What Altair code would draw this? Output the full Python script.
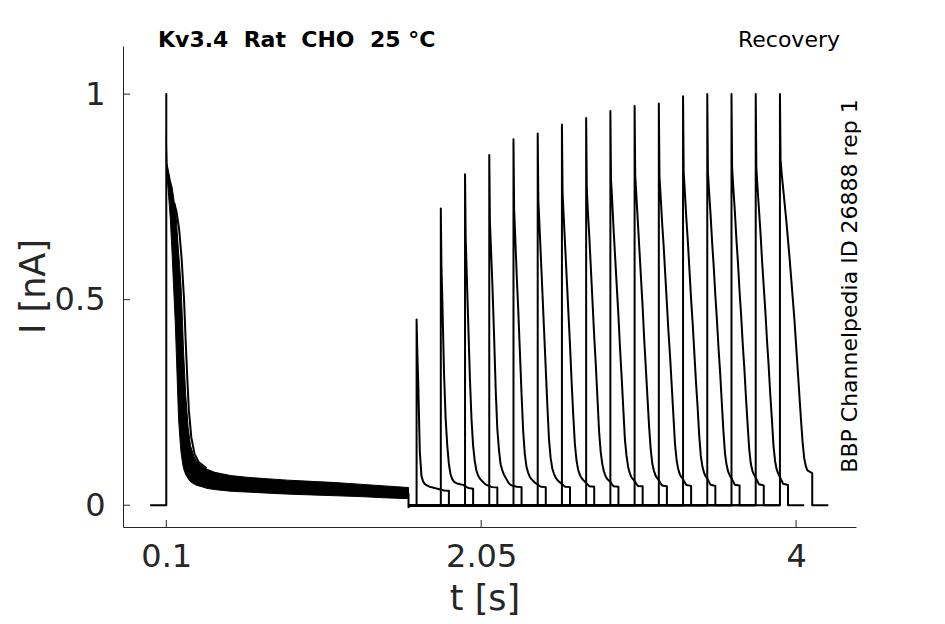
import altair as alt
import pandas as pd

# ---------------- axis values ----------------
x_ticks = [0.1, 2.05, 4]
y_ticks = [0, 0.5, 1]
x_domain = [-0.168, 4.371]
y_domain = [-0.053, 1.117]

# ---------------- prepulse (16 sweeps overlaid) : band envelope ----------------
band_t = [0.1, 0.105, 0.115, 0.125, 0.135, 0.145, 0.155, 0.162, 0.17, 0.176, 0.185,
          0.191, 0.2, 0.207, 0.22, 0.235, 0.25, 0.27, 0.29, 0.32, 0.35, 0.4, 0.45,
          0.5, 0.6, 0.7, 0.85, 1.0, 1.15, 1.3, 1.45, 1.6]
band_hi = [0.90, 0.83, 0.81, 0.79, 0.775, 0.75, 0.72, 0.697, 0.65, 0.616, 0.57,
           0.535, 0.45, 0.373, 0.27, 0.19, 0.145, 0.12, 0.105, 0.095, 0.088, 0.08, 0.076,
           0.072, 0.068, 0.065, 0.061, 0.058, 0.055, 0.051, 0.047, 0.043]
band_lo = [0.84, 0.80, 0.75, 0.697, 0.62, 0.535, 0.45, 0.373, 0.28, 0.211, 0.16,
           0.13, 0.105, 0.089, 0.075, 0.065, 0.057, 0.052, 0.048, 0.045, 0.041, 0.038, 0.036,
           0.034, 0.032, 0.030, 0.027, 0.025, 0.023, 0.021, 0.018, 0.016]

# leading baseline and activation spike of the prepulse
pre_t = [0.0, 0.1, 0.1, 0.1]
pre_i = [0.0, 0.0, 1.0, 0.86]
# one slower trace separated from the band
odd_t = [0.15, 0.165, 0.18, 0.195, 0.21, 0.22, 0.23, 0.24, 0.255, 0.275, 0.30, 0.35]
odd_i = [0.735, 0.71, 0.67, 0.60, 0.50, 0.40, 0.31, 0.23, 0.165, 0.125, 0.105, 0.09]
# end of prepulse
end_t = [1.6, 1.6, 1.61]
end_i = [0.03, -0.005, 0.0]

# ---------------- test pulses ----------------
gap_start = 1.6            # prepulse end, current back to 0
tail_len = 0.1             # baseline after each test pulse
starts = [1.65, 1.80, 1.95, 2.10, 2.25, 2.40, 2.55, 2.70, 2.85, 3.00, 3.15,
          3.30, 3.45, 3.60, 3.75, 3.90]
rel = [0, 0.004, 0.01, 0.02, 0.03, 0.04, 0.05, 0.06, 0.07, 0.08, 0.09, 0.10,
       0.11, 0.12, 0.13, 0.14, 0.15, 0.16, 0.17, 0.2]
pulse_00 = [0.452, 0.38, 0.30, 0.13, 0.072, 0.058, 0.052, 0.049, 0.047, 0.045, 0.044, 0.043, 0.042, 0.041, 0.040, 0.039, 0.038, 0.037, 0.036, 0.035]
pulse_01 = [0.722, 0.58, 0.49, 0.32, 0.21, 0.145, 0.10, 0.076, 0.064, 0.058, 0.055, 0.053, 0.052, 0.051, 0.050, 0.049, 0.047, 0.044, 0.042, 0.040]
pulse_02 = [0.805, 0.65, 0.57, 0.44, 0.31, 0.21, 0.145, 0.108, 0.085, 0.073, 0.066, 0.061, 0.057, 0.053, 0.050, 0.048, 0.047, 0.045, 0.044, 0.043]
pulse_03 = [0.852, 0.69, 0.63, 0.53, 0.41, 0.28, 0.185, 0.135, 0.10, 0.086, 0.075, 0.068, 0.061, 0.054, 0.050, 0.048, 0.047, 0.046, 0.045, 0.044]
pulse_04 = [0.890, 0.72, 0.66, 0.56, 0.47, 0.37, 0.27, 0.18, 0.125, 0.095, 0.08, 0.07, 0.064, 0.060, 0.056, 0.053, 0.050, 0.047, 0.045, 0.044]
pulse_05 = [0.904, 0.74, 0.69, 0.60, 0.51, 0.42, 0.33, 0.24, 0.16, 0.115, 0.09, 0.077, 0.068, 0.062, 0.058, 0.055, 0.052, 0.048, 0.045, 0.044]
pulse_06 = [0.926, 0.76, 0.71, 0.63, 0.55, 0.47, 0.39, 0.30, 0.22, 0.15, 0.11, 0.087, 0.075, 0.067, 0.062, 0.058, 0.055, 0.050, 0.046, 0.045]
pulse_07 = [0.942, 0.77, 0.72, 0.65, 0.57, 0.49, 0.41, 0.34, 0.26, 0.18, 0.13, 0.10, 0.082, 0.071, 0.064, 0.060, 0.057, 0.051, 0.046, 0.045]
pulse_08 = [0.959, 0.79, 0.75, 0.67, 0.60, 0.53, 0.46, 0.38, 0.31, 0.235, 0.16, 0.12, 0.093, 0.078, 0.068, 0.063, 0.059, 0.052, 0.047, 0.046]
pulse_09 = [0.971, 0.80, 0.76, 0.69, 0.62, 0.55, 0.48, 0.40, 0.33, 0.26, 0.19, 0.135, 0.10, 0.083, 0.072, 0.066, 0.061, 0.054, 0.048, 0.046]
pulse_10 = [0.977, 0.80, 0.76, 0.69, 0.63, 0.56, 0.49, 0.42, 0.36, 0.29, 0.22, 0.15, 0.11, 0.088, 0.075, 0.068, 0.063, 0.056, 0.049, 0.047]
pulse_11 = [0.995, 0.81, 0.77, 0.70, 0.64, 0.57, 0.50, 0.44, 0.37, 0.30, 0.24, 0.17, 0.12, 0.094, 0.079, 0.070, 0.065, 0.057, 0.050, 0.047]
pulse_12 = [1.0, 0.81, 0.77, 0.71, 0.64, 0.58, 0.51, 0.45, 0.38, 0.32, 0.25, 0.18, 0.125, 0.097, 0.081, 0.072, 0.066, 0.058, 0.050, 0.048]
pulse_13 = [1.0, 0.82, 0.78, 0.72, 0.65, 0.59, 0.52, 0.46, 0.39, 0.33, 0.26, 0.195, 0.135, 0.10, 0.083, 0.074, 0.067, 0.059, 0.051, 0.048]
pulse_14 = [1.0, 0.82, 0.78, 0.72, 0.66, 0.59, 0.53, 0.47, 0.40, 0.34, 0.27, 0.21, 0.145, 0.107, 0.087, 0.076, 0.069, 0.060, 0.052, 0.049]
pulse_15 = [1.0, 0.84, 0.81, 0.77, 0.73, 0.69, 0.645, 0.60, 0.55, 0.50, 0.45, 0.39, 0.33, 0.27, 0.21, 0.155, 0.115, 0.095, 0.085, 0.078]
pulses = [pulse_00, pulse_01, pulse_02, pulse_03, pulse_04, pulse_05, pulse_06, pulse_07,
          pulse_08, pulse_09, pulse_10, pulse_11, pulse_12, pulse_13, pulse_14, pulse_15]

# ---------------- build tables ----------------
rows = []
def add_seg(name, ts, vs):
    for n, (t, v) in enumerate(zip(ts, vs)):
        rows.append({"seg": name, "idx": n, "t": t, "i": v})

add_seg("pre", pre_t, pre_i)
add_seg("odd", odd_t, odd_i)
add_seg("end", end_t, end_i)
for k, (s, vals) in enumerate(zip(starts, pulses)):
    ts = [gap_start, s] + [s + r for r in rel] + [s + rel[-1], s + rel[-1] + tail_len]
    vs = [0.0, 0.0] + list(vals) + [0.0, 0.0]
    add_seg(f"sweep{k:02d}", ts, vs)
lines_df = pd.DataFrame(rows)
band_df = pd.DataFrame({"t": band_t, "i": band_hi, "i2": band_lo})

W, H = 733, 481
ink = "#262626"
font = "DejaVu Sans"

sx = alt.Scale(domain=x_domain, nice=False, zero=False)
sy = alt.Scale(domain=y_domain, nice=False, zero=False)

x_axis = alt.Axis(values=x_ticks, format=".3~g", ticks=False, grid=False, labelPadding=14,
                  labelFlush=False, title="t [s]", titleX=W / 2 - 5, titleY=82,
                  titleBaseline="alphabetic", titleAlign="center")
y_axis = alt.Axis(values=y_ticks, format=".3~g", ticks=False, grid=False, labelPadding=18,
                  labelFlush=False, title="I [nA]", titleAngle=270, titleX=-79, titleY=240,
                  titleBaseline="alphabetic", titleAlign="center")

X = alt.X("t:Q", scale=sx, axis=x_axis, title="t [s]")
Y = alt.Y("i:Q", scale=sy, axis=y_axis, title="I [nA]")

lines = alt.Chart(lines_df).mark_line(color="black", strokeWidth=2, strokeJoin="round").encode(
    x=X, y=Y, detail="seg:N", order="idx:Q",
)

band = alt.Chart(band_df).mark_area(color="black", stroke="black", strokeWidth=1).encode(
    x=X, y=Y, y2="i2:Q",
)

xt = alt.Chart(pd.DataFrame({"t": x_ticks})).mark_rule(color=ink, strokeWidth=1).encode(
    x=X, y=alt.value(H), y2=alt.value(H - 7))
yt = alt.Chart(pd.DataFrame({"i": y_ticks})).mark_rule(color=ink, strokeWidth=1).encode(
    y=Y, x=alt.value(0), x2=alt.value(7))

title_l = alt.Chart(pd.DataFrame({"a": [0]})).mark_text(
    text="Kv3.4\u00a0 Rat\u00a0 CHO\u00a0 25 °C", font=font, fontSize=22, fontWeight="bold",
    align="left", baseline="alphabetic", color="black").encode(
    x=alt.value(35), y=alt.value(1))
title_r = alt.Chart(pd.DataFrame({"a": [0]})).mark_text(
    text="Recovery", font=font, fontSize=22, align="right", baseline="alphabetic",
    color="black").encode(x=alt.value(717), y=alt.value(1))
side = alt.Chart(pd.DataFrame({"a": [0]})).mark_text(
    text="BBP Channelpedia ID 26888 rep 1", font=font, fontSize=22, angle=270,
    align="center", baseline="middle", color="black").encode(
    x=alt.value(727), y=alt.value(240))

chart = alt.layer(band, lines, xt, yt, title_l, title_r, side).properties(
    width=W, height=H,
    padding={"left": 115, "top": 38, "right": 80, "bottom": 89},
    autosize=alt.AutoSizeParams(type="none"),
    background="white",
).configure_view(stroke=None).configure_axis(
    domainColor=ink, domainWidth=1, labelColor=ink, titleColor=ink,
    labelFont=font, titleFont=font, labelFontSize=32, titleFontSize=35,
    titleFontWeight="normal",
)

chart.save("out.html", embed_options={"renderer": "svg", "actions": False})
